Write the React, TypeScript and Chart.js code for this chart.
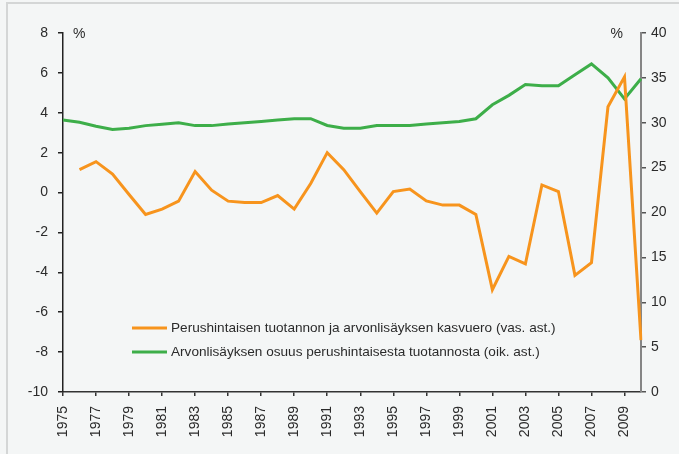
import { useEffect, useRef } from 'react';
import { Chart, registerables } from 'chart.js';

Chart.register(...registerables);

const years = [
  '1975', '1976', '1977', '1978', '1979', '1980', '1981', '1982', '1983', '1984',
  '1985', '1986', '1987', '1988', '1989', '1990', '1991', '1992', '1993', '1994',
  '1995', '1996', '1997', '1998', '1999', '2000', '2001', '2002', '2003', '2004',
  '2005', '2006', '2007', '2008', '2009', '2010',
];

// Growth gap, left axis (%), from 1976 to 2010
const growthGap = [
  1.15, 1.55, 0.93, -0.1, -1.1, -0.83, -0.43, 1.05, 0.12,
  -0.43, -0.5, -0.5, -0.15, -0.83, 0.45, 2.0, 1.15, 0.05, -1.03,
  0.05, 0.18, -0.42, -0.63, -0.63, -1.1, -4.87, -3.2, -3.58, 0.38,
  0.05, -4.15, -3.52, 4.3, 5.8, -7.4,
];

// Share of value added, right axis (%), from 1975 to 2010
const vatShare = [
  30.3, 30.05, 29.62, 29.25, 29.4, 29.68, 29.83, 30.0, 29.68, 29.68,
  29.85, 30.0, 30.15, 30.3, 30.45, 30.45, 29.7, 29.38, 29.38, 29.7,
  29.7, 29.7, 29.85, 30.0, 30.15, 30.45, 32.0, 33.05, 34.25, 34.12,
  34.12, 35.35, 36.55, 35.0, 32.65, 34.9,
];

const seriesLabels = [
  'Perushintaisen tuotannon ja arvonlisäyksen kasvuero (vas. ast.)',
  'Arvonlisäyksen osuus perushintaisesta tuotannosta (oik. ast.)',
];
const seriesColors = ['#f7941d', '#3dae49'];
const unitLabel = '%';

const FONT = '"Liberation Sans", Arial, sans-serif';
const TEXT = '#2b2b2b';

const overlayPlugin = {
  id: 'overlay',
  afterDraw(chart: any) {
    const ctx = chart.ctx;
    const { left, right, top } = chart.chartArea;
    ctx.save();
    ctx.font = `14px ${FONT}`;
    ctx.fillStyle = TEXT;
    ctx.textBaseline = 'middle';
    ctx.textAlign = 'left';
    ctx.fillText(unitLabel, left + 10, top + 1);
    ctx.textAlign = 'right';
    ctx.fillText(unitLabel, right - 18, top + 1);

    ctx.font = `13.6px ${FONT}`;
    const rows = [top + 295, top + 319];
    seriesLabels.forEach((lab, i) => {
      const y = rows[i];
      ctx.strokeStyle = seriesColors[i];
      ctx.lineWidth = 3;
      ctx.beginPath();
      ctx.moveTo(left + 69, y);
      ctx.lineTo(left + 104, y);
      ctx.stroke();
      ctx.fillStyle = TEXT;
      ctx.textAlign = 'left';
      ctx.fillText(lab, left + 108, y);
    });
    ctx.restore();
  },
};

export default function App() {
  const ref = useRef<HTMLCanvasElement>(null);

  useEffect(() => {
    if (!ref.current) return;
    const chart = new Chart(ref.current, {
      type: 'line',
      data: {
        labels: years,
        datasets: [
          {
            label: seriesLabels[0],
            data: [null, ...growthGap],
            borderColor: seriesColors[0],
            backgroundColor: seriesColors[0],
            borderWidth: 3,
            pointRadius: 0,
            tension: 0,
            yAxisID: 'y',
          },
          {
            label: seriesLabels[1],
            data: vatShare,
            borderColor: seriesColors[1],
            backgroundColor: seriesColors[1],
            borderWidth: 3,
            pointRadius: 0,
            tension: 0,
            yAxisID: 'y1',
          },
        ],
      },
      options: {
        responsive: false,
        animation: false,
        devicePixelRatio: 1,
        layout: { padding: { top: 33, right: 0, left: 0, bottom: 0 } },
        plugins: {
          legend: { display: false },
          tooltip: { enabled: false },
        },
        scales: {
          x: {
            offset: false,
            afterFit: (s: any) => { s.height = 62; },
            border: { display: true, color: '#333', width: 1.5 },
            grid: {
              drawOnChartArea: false,
              drawTicks: true,
              tickLength: 4,
              color: '#333',
              lineWidth: 1.5,
            },
            ticks: {
              autoSkip: false,
              minRotation: 90,
              maxRotation: 90,
              padding: 10,
              color: TEXT,
              font: { family: FONT, size: 14 },
              callback: (_v: any, i: number) => (i % 2 === 0 && i < 35 ? years[i] : null),
            },
          },
          y: {
            position: 'left',
            min: -10,
            max: 8,
            afterFit: (s: any) => { s.width = 63; },
            border: { display: true, color: '#222', width: 1.5 },
            grid: {
              drawOnChartArea: false,
              drawTicks: true,
              tickLength: 5,
              color: '#222',
              lineWidth: 1.5,
            },
            ticks: {
              stepSize: 2,
              padding: 10,
              color: TEXT,
              font: { family: FONT, size: 14 },
            },
          },
          y1: {
            position: 'right',
            min: 0,
            max: 40,
            afterFit: (s: any) => { s.width = 38; },
            border: { display: true, color: '#858585', width: 2 },
            grid: {
              drawOnChartArea: false,
              drawTicks: true,
              tickLength: 5,
              color: '#555',
              lineWidth: 1.5,
            },
            ticks: {
              stepSize: 5,
              padding: 5,
              color: TEXT,
              font: { family: FONT, size: 14 },
            },
          },
        },
      },
      plugins: [overlayPlugin],
    } as any);
    return () => chart.destroy();
  }, []);

  return (
    <div style={{ position: 'absolute', left: 0, top: 0, width: 679, height: 454, background: '#f4f6f6', overflow: 'hidden' }}>
      <div style={{ position: 'absolute', left: 6, top: 2, width: 700, height: 500, borderTop: '2px solid #d4d6d6', borderLeft: '2px solid #d4d6d6' }} />
      <canvas ref={ref} width={679} height={454} style={{ position: 'absolute', left: 0, top: 0, width: 679, height: 454 }} />
    </div>
  );
}
